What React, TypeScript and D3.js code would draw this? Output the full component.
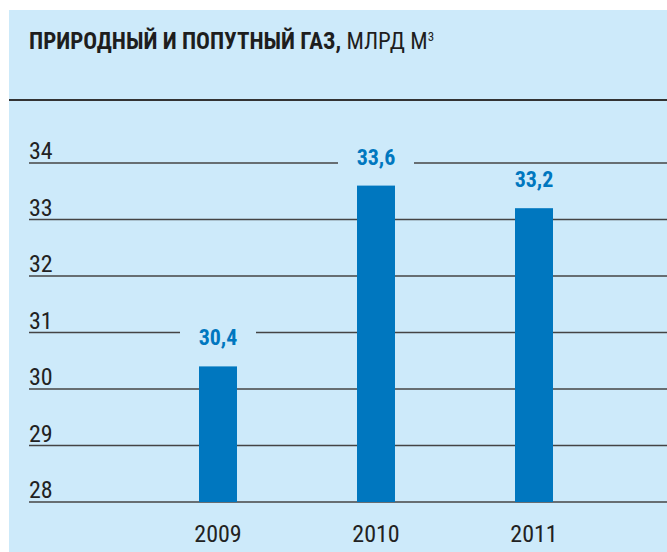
import React, { useEffect, useRef } from 'react';
import * as d3 from 'd3';

const years = ['2009', '2010', '2011'];
const gasValues = [30.4, 33.6, 33.2];
const valueLabels = ['30,4', '33,6', '33,2'];
const yTicks = [28, 29, 30, 31, 32, 33, 34];
const titleBold = 'ПРИРОДНЫЙ И ПОПУТНЫЙ ГАЗ,';
const titleUnit = ' МЛРД М';

const W = 667;
const H = 552;
const BG = '#cdeafa';
const BLUE = '#0077bf';
const FONT = '"Liberation Sans Narrow", "Roboto Condensed", "Arial Narrow", sans-serif';

const App = () => {
  const svgRef = useRef<SVGSVGElement>(null);

  useEffect(() => {
    const svg = d3.select(svgRef.current);
    svg.selectAll('*').remove(); // Clear previous content

    svg.append('rect').attr('width', W).attr('height', H).attr('fill', '#fff');
    svg.append('rect').attr('x', 9).attr('y', 10).attr('width', W - 9).attr('height', H - 10).attr('fill', BG);

    // title
    const title = svg
      .append('text')
      .attr('x', 29)
      .attr('y', 49)
      .style('font-family', FONT)
      .style('font-size', '23px')
      .attr('fill', '#1e1e1e');
    title.append('tspan').style('font-weight', 'bold').text(titleBold);
    title.append('tspan').text(titleUnit);
    title.append('tspan').attr('dy', -8).style('font-size', '13px').text('3');

    svg
      .append('line')
      .attr('x1', 9)
      .attr('x2', W)
      .attr('y1', 100)
      .attr('y2', 100)
      .attr('stroke', '#333')
      .attr('stroke-width', 2);

    const y = d3.scaleLinear().domain([28, 34]).range([502, 163]);
    const x = d3.scalePoint().domain(years).range([139, 613]).padding(0.5);
    const barW = 38;

    // gridlines + tick labels
    const grid = svg.append('g');
    grid
      .selectAll('line')
      .data(yTicks)
      .enter()
      .append('line')
      .attr('x1', 29)
      .attr('x2', W)
      .attr('y1', (d) => y(d))
      .attr('y2', (d) => y(d))
      .attr('stroke', '#444')
      .attr('stroke-width', 1.5);
    grid
      .selectAll('text')
      .data(yTicks)
      .enter()
      .append('text')
      .attr('x', 29)
      .attr('y', (d) => y(d) - 4)
      .style('font-family', FONT)
      .style('font-size', '24px')
      .attr('fill', '#222')
      .text((d) => d);

    // bars
    svg
      .append('g')
      .selectAll('rect')
      .data(gasValues)
      .enter()
      .append('rect')
      .attr('x', (d, i) => (x(years[i]) as number) - barW / 2)
      .attr('y', (d) => y(d))
      .attr('width', barW)
      .attr('height', (d) => y(28) - y(d))
      .attr('fill', BLUE);

    // value labels with knockout behind
    const lab = svg.append('g');
    lab
      .selectAll('rect')
      .data(gasValues)
      .enter()
      .append('rect')
      .attr('x', (d, i) => (x(years[i]) as number) - 38)
      .attr('y', (d) => y(d) - 44)
      .attr('width', 76)
      .attr('height', 32)
      .attr('fill', BG);
    lab
      .selectAll('text')
      .data(gasValues)
      .enter()
      .append('text')
      .attr('x', (d, i) => x(years[i]) as number)
      .attr('y', (d) => y(d) - 21)
      .attr('text-anchor', 'middle')
      .style('font-family', FONT)
      .style('font-size', '22px')
      .style('font-weight', 'bold')
      .attr('fill', BLUE)
      .text((d, i) => valueLabels[i]);

    // year labels
    svg
      .append('g')
      .selectAll('text')
      .data(years)
      .enter()
      .append('text')
      .attr('x', (d) => x(d) as number)
      .attr('y', 542)
      .attr('text-anchor', 'middle')
      .style('font-family', FONT)
      .style('font-size', '24px')
      .attr('fill', '#222')
      .text((d) => d);
  }, []);

  return (
    <div style={{ position: 'absolute', left: 0, top: 0, width: W, height: H }}>
      <svg ref={svgRef} width={W} height={H}></svg>
    </div>
  );
};

export default App;
